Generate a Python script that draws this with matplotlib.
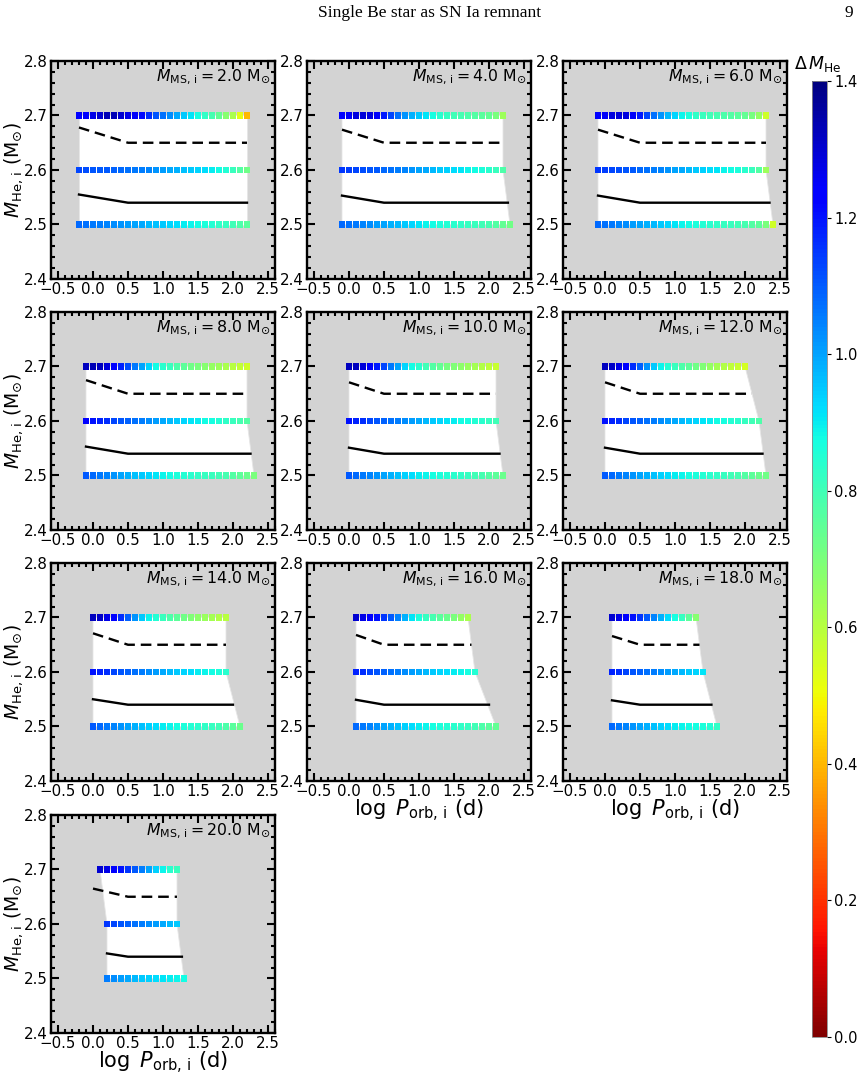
import numpy as np
import matplotlib
matplotlib.use("Agg")
import matplotlib.pyplot as plt
from matplotlib.ticker import MultipleLocator
from matplotlib.colors import Normalize
from matplotlib.cm import ScalarMappable

# ---------------- data ----------------
mass_ms = [2.0, 4.0, 6.0, 8.0, 10.0, 12.0, 14.0, 16.0, 18.0, 20.0]
row_mhe = [2.5, 2.6, 2.7]
step_logp = 0.1

# first log P of each row (rows 2.5, 2.6, 2.7)
start_2 = [-0.2, -0.2, -0.2]
start_4 = [-0.1, -0.1, -0.1]
start_6 = [-0.1, -0.1, -0.1]
start_8 = [-0.1, -0.1, -0.1]
start_10 = [0.0, 0.0, 0.0]
start_12 = [0.0, 0.0, 0.0]
start_14 = [0.0, 0.0, 0.0]
start_16 = [0.1, 0.1, 0.1]
start_18 = [0.1, 0.1, 0.1]
start_20 = [0.2, 0.2, 0.1]

# Delta M_He values along each row
dm_2_27 = [1.22,1.24,1.27,1.30,1.33,1.33,1.30,1.27,1.25,1.21,1.16,1.11,1.07,1.03,0.99,0.95,0.91,0.87,0.83,0.79,0.74,0.68,0.62,0.52,0.40]
dm_2_26 = [1.13,1.12,1.11,1.10,1.10,1.09,1.08,1.07,1.06,1.05,1.04,1.02,1.01,0.99,0.98,0.96,0.95,0.93,0.92,0.90,0.88,0.85,0.81,0.77,0.72]
dm_2_25 = [1.08,1.07,1.06,1.05,1.04,1.03,1.02,1.01,1.00,0.99,0.97,0.96,0.95,0.93,0.92,0.90,0.89,0.88,0.86,0.85,0.83,0.82,0.80,0.78,0.76]

dm_4_27 = [1.22,1.25,1.28,1.29,1.28,1.25,1.19,1.13,1.07,1.02,0.98,0.95,0.91,0.87,0.84,0.82,0.80,0.79,0.78,0.77,0.76,0.74,0.70,0.64]
dm_4_26 = [1.15,1.14,1.13,1.12,1.11,1.10,1.08,1.07,1.05,1.04,1.02,1.00,0.99,0.97,0.95,0.94,0.92,0.91,0.89,0.88,0.86,0.84,0.81,0.78]
dm_4_25 = [1.08,1.07,1.06,1.04,1.03,1.01,1.00,0.98,0.97,0.95,0.93,0.91,0.89,0.88,0.86,0.85,0.84,0.83,0.82,0.81,0.80,0.79,0.77,0.74,0.72]

dm_6_27 = [1.22,1.25,1.28,1.29,1.28,1.25,1.19,1.13,1.07,1.02,0.97,0.93,0.89,0.86,0.83,0.81,0.80,0.79,0.78,0.77,0.76,0.74,0.71,0.66,0.56]
dm_6_26 = [1.15,1.14,1.13,1.12,1.11,1.10,1.08,1.07,1.05,1.04,1.02,1.00,0.99,0.97,0.95,0.94,0.92,0.91,0.89,0.88,0.86,0.84,0.81,0.77,0.64]
dm_6_25 = [1.08,1.07,1.06,1.04,1.03,1.01,1.00,0.98,0.97,0.95,0.93,0.91,0.89,0.88,0.86,0.85,0.84,0.83,0.82,0.81,0.80,0.79,0.77,0.75,0.70,0.56]

dm_8_27 = [1.32,1.33,1.32,1.29,1.24,1.18,1.12,1.06,1.00,0.93,0.88,0.84,0.81,0.78,0.75,0.72,0.70,0.68,0.66,0.64,0.62,0.60,0.58,0.56]
dm_8_26 = [1.22,1.20,1.18,1.16,1.13,1.11,1.09,1.07,1.05,1.03,1.01,0.99,0.97,0.95,0.93,0.91,0.90,0.88,0.87,0.85,0.83,0.81,0.79,0.77]
dm_8_25 = [1.10,1.08,1.06,1.04,1.02,1.00,0.98,0.96,0.95,0.93,0.91,0.89,0.88,0.86,0.85,0.84,0.83,0.82,0.81,0.80,0.79,0.77,0.75,0.73,0.70]

dm_10_27 = [1.32,1.32,1.29,1.25,1.19,1.13,1.06,1.00,0.93,0.88,0.84,0.80,0.77,0.74,0.71,0.69,0.67,0.65,0.63,0.61,0.59,0.57]
dm_10_26 = [1.20,1.18,1.16,1.13,1.11,1.09,1.07,1.05,1.03,1.01,0.99,0.97,0.95,0.93,0.91,0.90,0.88,0.87,0.85,0.84,0.82,0.80]
dm_10_25 = [1.10,1.08,1.06,1.04,1.02,1.00,0.98,0.96,0.94,0.92,0.90,0.89,0.87,0.86,0.85,0.84,0.83,0.82,0.80,0.79,0.77,0.75,0.73]

dm_12_27 = [1.32,1.31,1.27,1.22,1.16,1.09,1.02,0.95,0.89,0.85,0.81,0.78,0.75,0.72,0.69,0.66,0.63,0.61,0.59,0.57,0.55]
dm_12_26 = [1.20,1.18,1.16,1.13,1.11,1.09,1.07,1.05,1.03,1.01,0.99,0.97,0.95,0.93,0.91,0.90,0.88,0.87,0.85,0.84,0.82,0.80,0.78]
dm_12_25 = [1.10,1.08,1.06,1.04,1.02,1.00,0.98,0.96,0.94,0.92,0.90,0.89,0.87,0.86,0.85,0.84,0.83,0.82,0.80,0.79,0.77,0.75,0.73,0.72]

dm_14_27 = [1.32,1.31,1.27,1.22,1.16,1.09,1.02,0.95,0.89,0.85,0.81,0.78,0.75,0.72,0.69,0.67,0.65,0.63,0.61,0.60]
dm_14_26 = [1.20,1.18,1.16,1.13,1.11,1.09,1.07,1.05,1.03,1.01,0.99,0.97,0.95,0.93,0.92,0.90,0.89,0.88,0.86,0.84]
dm_14_25 = [1.10,1.08,1.06,1.04,1.02,1.00,0.98,0.96,0.94,0.92,0.90,0.89,0.87,0.86,0.85,0.84,0.83,0.82,0.80,0.78,0.76,0.73]

dm_16_27 = [1.30,1.27,1.24,1.20,1.15,1.10,1.04,0.98,0.91,0.86,0.82,0.79,0.76,0.73,0.70,0.66,0.62]
dm_16_26 = [1.18,1.16,1.13,1.11,1.09,1.07,1.05,1.03,1.01,0.99,0.97,0.95,0.93,0.92,0.90,0.89,0.87,0.85]
dm_16_25 = [1.08,1.06,1.04,1.02,1.00,0.98,0.96,0.94,0.92,0.90,0.89,0.87,0.86,0.85,0.84,0.83,0.82,0.80,0.78,0.76,0.74]

dm_18_27 = [1.30,1.27,1.24,1.20,1.15,1.10,1.04,0.98,0.92,0.87,0.82,0.75,0.68]
dm_18_26 = [1.18,1.16,1.13,1.11,1.09,1.07,1.05,1.03,1.01,0.99,0.97,0.95,0.93,0.91]
dm_18_25 = [1.08,1.06,1.04,1.02,1.00,0.98,0.96,0.94,0.92,0.90,0.89,0.88,0.87,0.86,0.85,0.83]

dm_20_27 = [1.30,1.27,1.24,1.20,1.15,1.10,1.05,1.00,0.94,0.89,0.84,0.81]
dm_20_26 = [1.15,1.13,1.11,1.09,1.07,1.05,1.03,1.01,0.99,0.97,0.95]
dm_20_25 = [1.05,1.03,1.01,0.99,0.97,0.95,0.94,0.92,0.91,0.90,0.89,0.88]

# boundary lines: dashed and solid (start point, kink at 0.5, end)
kink_logp = 0.5
dash_flat = 2.65
solid_flat = 2.54
dash_x0 = [-0.2, -0.1, -0.1, -0.1, 0.0, 0.0, 0.0, 0.1, 0.1, 0.0]
dash_y0 = [2.678, 2.674, 2.674, 2.675, 2.671, 2.671, 2.671, 2.668, 2.666, 2.665]
dash_xe = [2.2, 2.2, 2.3, 2.2, 2.1, 2.1, 1.9, 1.75, 1.35, 1.2]
solid_x0 = [-0.2, -0.1, -0.1, -0.1, 0.0, 0.0, 0.0, 0.1, 0.1, 0.2]
solid_y0 = [2.555, 2.553, 2.553, 2.553, 2.551, 2.551, 2.550, 2.549, 2.548, 2.546]
solid_xe = [2.2, 2.27, 2.35, 2.25, 2.15, 2.25, 2.0, 2.0, 1.52, 1.27]

starts = [start_2, start_4, start_6, start_8, start_10, start_12, start_14, start_16, start_18, start_20]
rows_dm = [
    [dm_2_25, dm_2_26, dm_2_27], [dm_4_25, dm_4_26, dm_4_27], [dm_6_25, dm_6_26, dm_6_27],
    [dm_8_25, dm_8_26, dm_8_27], [dm_10_25, dm_10_26, dm_10_27], [dm_12_25, dm_12_26, dm_12_27],
    [dm_14_25, dm_14_26, dm_14_27], [dm_16_25, dm_16_26, dm_16_27], [dm_18_25, dm_18_26, dm_18_27],
    [dm_20_25, dm_20_26, dm_20_27],
]

# ---------------- figure ----------------
W, H = 861, 1076
fig = plt.figure(figsize=(W / 100, H / 100), dpi=100)
plt.rcParams['mathtext.fontset'] = 'dejavusans'

col_left = [51, 307, 563]
row_top = [61, 312, 563, 815]
aw, ah = 224, 218

cmap = plt.get_cmap('jet_r')
norm = Normalize(vmin=0.0, vmax=1.4)

for k, m in enumerate(mass_ms):
    r, c = divmod(k, 3)
    ax = fig.add_axes([col_left[c] / W, 1 - (row_top[r] + ah) / H, aw / W, ah / H])
    ax.set_facecolor('#d3d3d3')
    ax.set_xlim(-0.6, 2.6)
    ax.set_ylim(2.4, 2.8)
    ax.xaxis.set_major_locator(MultipleLocator(0.5))
    ax.xaxis.set_minor_locator(MultipleLocator(0.1))
    ax.yaxis.set_major_locator(MultipleLocator(0.1))
    ax.yaxis.set_minor_locator(MultipleLocator(0.02))
    ax.tick_params(which='both', direction='in', top=True, right=True, labelsize=10.8, width=1.5)
    ax.tick_params(which='major', length=5.5, pad=2.5)
    ax.tick_params(which='minor', length=3)
    for s in ax.spines.values():
        s.set_linewidth(1.7)

    xs_rows = []
    for st, dm in zip(starts[k], rows_dm[k]):
        xs_rows.append(np.round(st + step_logp * np.arange(len(dm)), 2))
    # white valid region
    left = [(xr[0], y) for xr, y in zip(xs_rows, row_mhe)]
    right = [(xr[-1], y) for xr, y in zip(xs_rows, row_mhe)][::-1]
    poly = left + right
    ax.fill([p[0] for p in poly], [p[1] for p in poly], color='white', lw=0.6, ec='#e6e6e6', zorder=1)

    ax.plot([dash_x0[k], kink_logp, dash_xe[k]], [dash_y0[k], dash_flat, dash_flat],
            color='black', ls='--', lw=1.7, dashes=(4.5, 2.5), zorder=2)
    ax.plot([solid_x0[k], kink_logp, solid_xe[k]], [solid_y0[k], solid_flat, solid_flat],
            color='black', ls='-', lw=1.7, zorder=2)

    for xr, y, dm in zip(xs_rows, row_mhe, rows_dm[k]):
        ax.scatter(xr, np.full(len(xr), y), c=dm, cmap=cmap, norm=norm, marker='s', s=24,
                   linewidths=0, zorder=3)

    ax.text(0.978, 0.905, r'$M_{\rm MS,\,i} = %.1f\ \rm M_{\odot}$' % m, transform=ax.transAxes,
            ha='right', va='baseline', fontsize=11.3)

    if c == 0:
        yc = 1 - (row_top[r] + ah / 2) / H
        fig.text(14 / W, yc, r'$M_{\rm He,\,i}\ (\rm M_{\odot})$', rotation=90,
                 ha='center', va='center', fontsize=13.5)
    if k in (7, 8, 9):
        ax.set_xlabel(r'$\log\ P_{\rm orb,\,i}\ (\rm d)$', fontsize=15, labelpad=-1)

# colorbar
cax = fig.add_axes([812 / W, 1 - 1037 / H, 15 / W, (1037 - 81) / H])
cb = fig.colorbar(ScalarMappable(norm=norm, cmap=cmap), cax=cax)
cb.set_ticks([0.0, 0.2, 0.4, 0.6, 0.8, 1.0, 1.2, 1.4])
cb.ax.tick_params(labelsize=10.5, length=3, width=0.8, pad=2)
cb.outline.set_linewidth(0.6)
cb.outline.set_edgecolor('#888888')
fig.text(818 / W, 1 - 64 / H, r'$\Delta\,M_{\rm He}$', ha='center', va='center', fontsize=12.5)

# page header
fig.text(430 / W, 1 - 13 / H, 'Single Be star as SN Ia remnant', ha='center', va='center',
         family='Liberation Serif', fontsize=12.5)
fig.text(849 / W, 1 - 13 / H, '9', ha='center', va='center', family='Liberation Serif', fontsize=12.5)

fig.savefig('out.png', dpi=100)
